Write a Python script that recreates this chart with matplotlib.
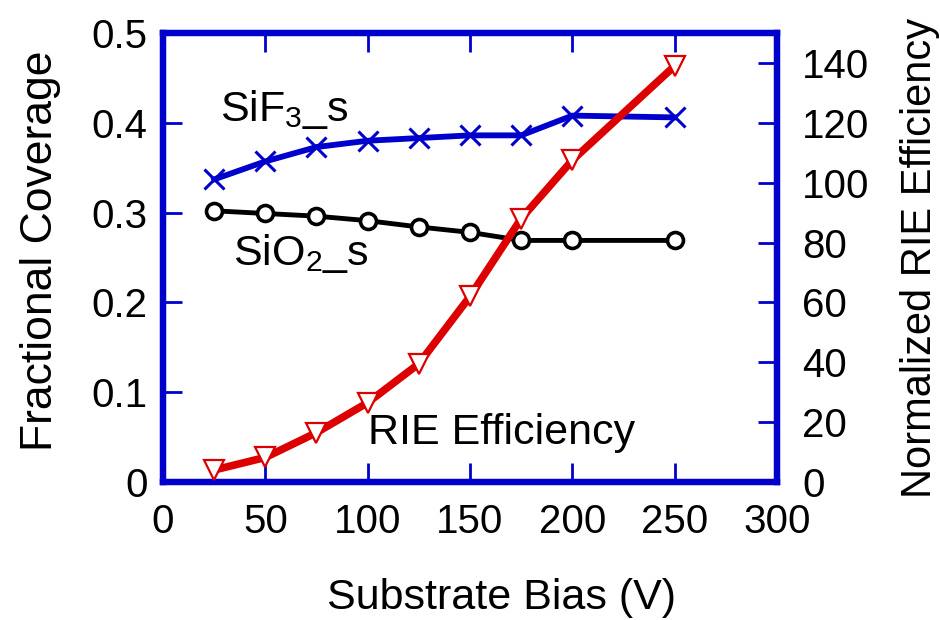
import matplotlib
matplotlib.use("Agg")
import matplotlib.pyplot as plt

plt.rcParams['font.family'] = ['Liberation Sans', 'DejaVu Sans']
plt.rcParams['mathtext.default'] = 'regular'

# Substrate bias (V)
bias = [25, 50, 75, 100, 125, 150, 175, 200, 250]
# Fractional surface coverage
sif3_s = [0.337, 0.357, 0.373, 0.380, 0.383, 0.386, 0.386, 0.408, 0.406]
sio2_s = [0.302, 0.299, 0.296, 0.291, 0.284, 0.278, 0.269, 0.269, 0.269]
# Normalized RIE efficiency
rie_eff = [4.0, 8.2, 16.5, 26.5, 39.5, 62.0, 88.0, 107.5, 139.0]

x_ticks = [0, 50, 100, 150, 200, 250, 300]
left_ticks = [0, 0.1, 0.2, 0.3, 0.4, 0.5]
left_labels = ['0', '0.1', '0.2', '0.3', '0.4', '0.5']
right_ticks = [0, 20, 40, 60, 80, 100, 120, 140]

BLUE = '#0000cc'
RED = '#dd0000'
TICK_FS = 29
TEXT_FS = 31

fig = plt.figure(figsize=(9.4, 6.2), dpi=100)
ax = fig.add_axes([0.1734, 0.2226, 0.6532, 0.7242])
ax2 = ax.twinx()

ax.plot(bias, sif3_s, color=BLUE, lw=4.2, marker='x', ms=15, mew=2.2,
        mec=BLUE, zorder=3)
ax.plot(bias, sio2_s, color='black', lw=3.5, marker='o', ms=11.5, mew=2.6,
        mfc='white', mec='black', zorder=3)
ax2.plot(bias, rie_eff, color=RED, lw=5.5, marker='v', ms=15, mew=1.6,
         mfc='white', mec=RED, zorder=3)

ax.set_xlim(0, 300)
ax.set_ylim(0, 0.5)
ax2.set_ylim(0, 150)

ax.set_xticks(x_ticks)
ax.set_yticks(left_ticks)
ax.set_yticklabels(left_labels)
ax2.set_yticks(right_ticks)

for a in (ax, ax2):
    for s in a.spines.values():
        s.set_color(BLUE)
        s.set_linewidth(4.5)

ax.tick_params(axis='x', which='both', direction='in', length=14, width=2,
               color=BLUE, top=True, bottom=True, labelsize=TICK_FS, pad=15)
ax.tick_params(axis='y', which='both', direction='in', length=14, width=2,
               color=BLUE, left=True, right=False, labelsize=TICK_FS, pad=11)
ax2.tick_params(axis='y', which='both', direction='in', length=14, width=2,
                color=BLUE, right=True, left=False, labelsize=TICK_FS, pad=18)

ax.set_xlabel('Substrate Bias (V)', fontsize=TEXT_FS, labelpad=27)
ax.xaxis.label.set_x(0.552)
ax.set_ylabel('Fractional Coverage', fontsize=32, labelpad=22)
ax.yaxis.label.set_y(0.515)
ax2.set_ylabel('Normalized RIE Efficiency', fontsize=30, labelpad=22)

ax.text(28, 0.402, 'SiF$_3$_s', fontsize=TEXT_FS)
ax.text(34, 0.242, 'SiO$_2$_s', fontsize=TEXT_FS)
ax.text(100, 0.042, 'RIE Efficiency', fontsize=TEXT_FS)

fig.savefig('out.png', dpi=100)
